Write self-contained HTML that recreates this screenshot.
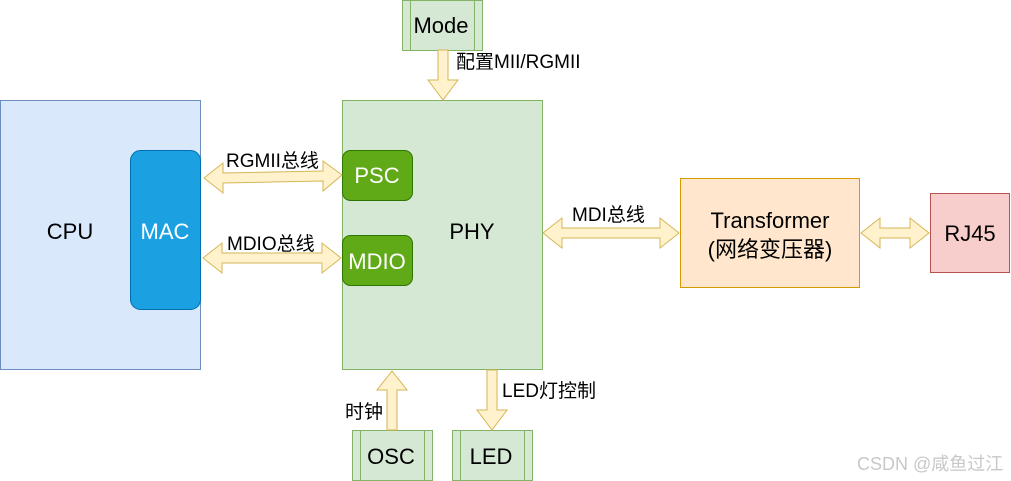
<!DOCTYPE html>
<html><head><meta charset="utf-8"><style>
html,body{margin:0;padding:0;background:#fff;}
svg{display:block;}
text{font-family:"Liberation Sans","Noto Sans CJK SC",sans-serif;}
</style></head><body>
<svg width="1011" height="481" viewBox="0 0 1011 481" xmlns="http://www.w3.org/2000/svg">
<rect x="0.5" y="100.5" width="200" height="269" fill="#dae8fc" stroke="#6c8ebf"/>
<text x="70" y="239" font-size="22" text-anchor="middle" fill="#000">CPU</text>
<rect x="130.5" y="150.5" width="70" height="159" rx="10" fill="#1ba1e2" stroke="#006eaf"/>
<text x="165" y="239" font-size="22" text-anchor="middle" fill="#fff">MAC</text>
<rect x="342.5" y="100.5" width="200" height="269" fill="#d5e8d4" stroke="#82b366"/>
<text x="472" y="239" font-size="22" text-anchor="middle" fill="#000">PHY</text>
<rect x="342.5" y="150.5" width="70" height="50" rx="8" fill="#60a917" stroke="#2d7600"/>
<text x="377" y="183" font-size="22" text-anchor="middle" fill="#fff">PSC</text>
<rect x="342.5" y="235.5" width="70" height="50" rx="8" fill="#60a917" stroke="#2d7600"/>
<text x="377" y="269" font-size="22" text-anchor="middle" fill="#fff">MDIO</text>
<rect x="402.5" y="0.5" width="80" height="50" fill="#d5e8d4" stroke="#82b366"/>
<line x1="410.5" y1="0.5" x2="410.5" y2="50.5" stroke="#82b366"/>
<line x1="474.5" y1="0.5" x2="474.5" y2="50.5" stroke="#82b366"/>
<text x="441" y="33" font-size="22" text-anchor="middle" fill="#000">Mode</text>
<polygon points="438,50 448,50 448,80 458,80 443,100 428,80 438,80" fill="#fff2cc" stroke="#d6b656"/>
<text x="456" y="68" font-size="19" fill="#000">配置MII/RGMII</text>
<rect x="680.5" y="178.5" width="179" height="109" fill="#ffe6cc" stroke="#d79b00"/>
<text x="770" y="228" font-size="22" text-anchor="middle" fill="#000">Transformer</text>
<text x="770" y="257" font-size="22" text-anchor="middle" fill="#000">(网络变压器)</text>
<rect x="930.5" y="193.5" width="79" height="79" fill="#f8cecc" stroke="#b85450"/>
<text x="970" y="241" font-size="22" text-anchor="middle" fill="#000">RJ45</text>
<rect x="352.5" y="430.5" width="80" height="50" fill="#d5e8d4" stroke="#82b366"/>
<line x1="360.5" y1="430.5" x2="360.5" y2="480.5" stroke="#82b366"/>
<line x1="424.5" y1="430.5" x2="424.5" y2="480.5" stroke="#82b366"/>
<text x="391" y="464" font-size="22" text-anchor="middle" fill="#000">OSC</text>
<rect x="452.5" y="430.5" width="80" height="50" fill="#d5e8d4" stroke="#82b366"/>
<line x1="460.5" y1="430.5" x2="460.5" y2="480.5" stroke="#82b366"/>
<line x1="524.5" y1="430.5" x2="524.5" y2="480.5" stroke="#82b366"/>
<text x="491" y="464" font-size="22" text-anchor="middle" fill="#000">LED</text>
<polygon points="387,430 397,430 397,390 407,390 392,371 377,390 387,390" fill="#fff2cc" stroke="#d6b656"/>
<text x="345" y="418" font-size="19" fill="#000">时钟</text>
<polygon points="487,370 497,370 497,410 507,410 492,430 477,410 487,410" fill="#fff2cc" stroke="#d6b656"/>
<text x="502" y="397" font-size="19" fill="#000">LED灯控制</text>
<polygon points="204,178 223,163 223,173 323,171 323,161 342,175 323,191 323,181 223,183 223,193" fill="#fff2cc" stroke="#d6b656"/>
<text x="226" y="167" font-size="19" fill="#000">RGMII总线</text>
<polygon points="203,258 222,243 222,253 322,253 322,243 341,258 322,273 322,263 222,263 222,273" fill="#fff2cc" stroke="#d6b656"/>
<text x="227" y="250" font-size="19" fill="#000">MDIO总线</text>
<polygon points="543,233 562,218 562,228 660,228 660,218 679,233 660,248 660,238 562,238 562,248" fill="#fff2cc" stroke="#d6b656"/>
<text x="572" y="221" font-size="19" fill="#000">MDI总线</text>
<polygon points="861,233 880,218 880,228 910,228 910,218 929,233 910,248 910,238 880,238 880,248" fill="#fff2cc" stroke="#d6b656"/>
<text x="857" y="470" font-size="18" fill="#c8c8c8">CSDN @咸鱼过江</text>
</svg>
</body></html>
